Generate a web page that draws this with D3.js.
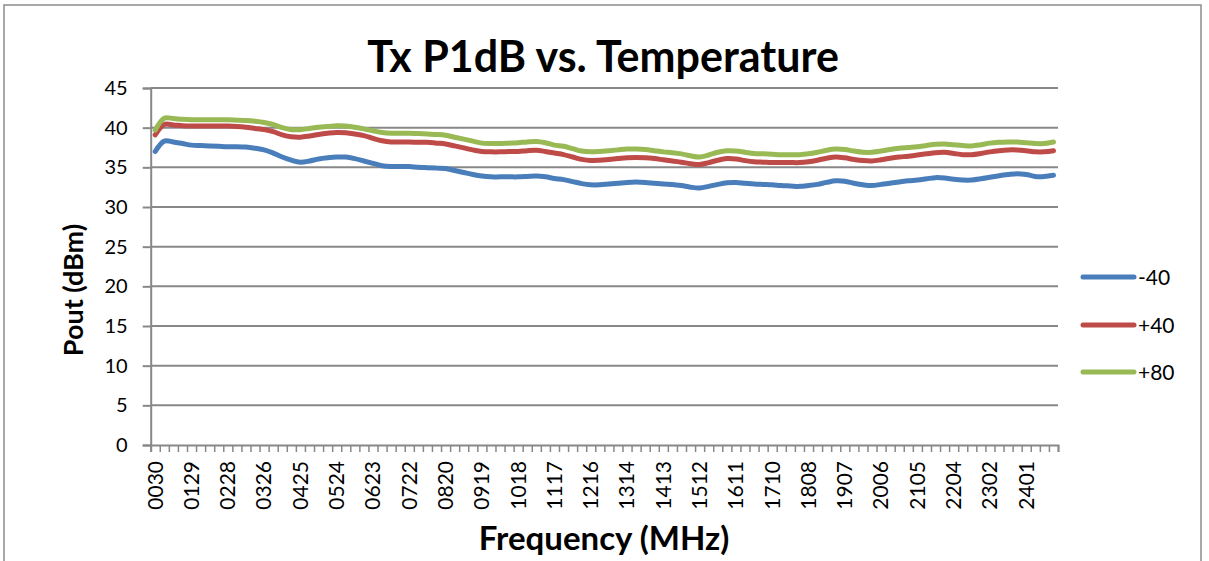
<!DOCTYPE html>
<html>
<head>
<meta charset="utf-8">
<script src="https://cdn.jsdelivr.net/npm/d3@7"></script>
<style>
  body { margin: 0; background: #fff; }
  svg text { font-family: Lato, "Open Sans", sans-serif; fill: #000; }
</style>
</head>
<body>
<div id="chart"></div>
<script>
// frequency labels (MHz), one per category
let freqLabels = [
  "0030","0055","0079","0104","0129","0154","0178","0203","0228","0252",
  "0277","0302","0326","0351","0376","0401","0425","0450","0475","0499",
  "0524","0549","0573","0598","0623","0648","0672","0697","0722","0746",
  "0771","0796","0820","0845","0870","0895","0919","0944","0969","0993",
  "1018","1043","1067","1092","1117","1142","1166","1191","1216","1240",
  "1265","1290","1314","1339","1364","1389","1413","1438","1463","1487",
  "1512","1537","1561","1586","1611","1636","1660","1685","1710","1734",
  "1759","1784","1808","1833","1858","1883","1907","1932","1957","1981",
  "2006","2031","2055","2080","2105","2130","2154","2179","2204","2228",
  "2253","2278","2302","2327","2352","2377","2401","2426","2451","2475"
];

// Pout at -40
let minus40 = [
  37.0,38.3,38.2,38.0,37.8,37.75,37.7,37.65,37.6,37.6,
  37.55,37.4,37.2,36.8,36.3,35.9,35.65,35.8,36.05,36.2,
  36.3,36.3,36.1,35.8,35.5,35.2,35.1,35.1,35.1,35.0,
  34.95,34.9,34.85,34.6,34.35,34.1,33.9,33.8,33.8,33.8,
  33.8,33.85,33.9,33.8,33.6,33.45,33.2,32.95,32.8,32.8,
  32.9,33.0,33.1,33.15,33.1,33.0,32.9,32.85,32.7,32.5,
  32.4,32.6,32.85,33.05,33.1,33.0,32.9,32.85,32.8,32.7,
  32.65,32.6,32.7,32.85,33.1,33.3,33.25,33.0,32.8,32.7,
  32.85,33.0,33.15,33.3,33.4,33.55,33.7,33.65,33.5,33.4,
  33.4,33.55,33.75,33.95,34.1,34.2,34.1,33.85,33.85,34.0
];

// Pout at +40
let plus40 = [
  39.1,40.4,40.35,40.25,40.2,40.2,40.2,40.2,40.2,40.15,
  40.05,39.9,39.75,39.5,39.1,38.85,38.8,38.95,39.15,39.3,
  39.4,39.35,39.2,39.0,38.65,38.35,38.2,38.2,38.2,38.15,
  38.15,38.05,37.95,37.7,37.45,37.2,37.0,36.95,36.95,37.0,
  37.0,37.1,37.15,37.0,36.8,36.6,36.3,36.0,35.85,35.9,
  36.0,36.1,36.2,36.25,36.2,36.1,35.95,35.8,35.65,35.45,
  35.35,35.6,35.9,36.1,36.05,35.85,35.7,35.65,35.6,35.6,
  35.6,35.6,35.7,35.9,36.15,36.3,36.2,36.0,35.85,35.8,
  35.95,36.15,36.3,36.4,36.55,36.7,36.85,36.9,36.75,36.6,
  36.6,36.75,36.95,37.1,37.2,37.2,37.1,36.95,36.95,37.1
];

// Pout at +80
let plus80 = [
  39.7,41.2,41.15,41.05,41.0,41.0,41.0,41.0,41.0,40.95,
  40.9,40.8,40.65,40.4,40.0,39.75,39.75,39.9,40.05,40.15,
  40.25,40.2,40.05,39.85,39.6,39.4,39.3,39.3,39.3,39.25,
  39.2,39.15,39.05,38.8,38.55,38.3,38.05,38.0,38.0,38.05,
  38.1,38.2,38.25,38.1,37.8,37.65,37.35,37.05,36.95,37.0,
  37.1,37.2,37.3,37.3,37.25,37.1,36.95,36.85,36.7,36.45,
  36.3,36.55,36.9,37.1,37.05,36.9,36.75,36.7,36.65,36.6,
  36.6,36.6,36.7,36.9,37.15,37.3,37.25,37.05,36.9,36.9,
  37.05,37.25,37.4,37.5,37.6,37.75,37.9,37.95,37.85,37.75,
  37.7,37.85,38.05,38.15,38.2,38.2,38.1,38.0,38.0,38.2
];

let seriesNames = ["-40", "+40", "+80"];
let seriesColors = ["#4a7ebb", "#be4b48", "#98b954"];
let yTicks = [0, 5, 10, 15, 20, 25, 30, 35, 40, 45];

let width = 1209;
let height = 561;
let gridColor = "#888888";

let svg = d3.select("#chart")
  .append("svg")
  .attr("width", width)
  .attr("height", height);

// chart frame
svg.append("rect")
  .attr("x", 4)
  .attr("y", 5)
  .attr("width", 1197)
  .attr("height", 600)
  .attr("fill", "#fff")
  .attr("stroke", "#8c8c8c")
  .attr("stroke-width", 1.5);

let plotLeft = 150.7;
let plotRight = 1058;
let plotTop = 88;
let plotBottom = 445;

let xScale = d3.scaleBand()
  .domain(d3.range(freqLabels.length))
  .range([plotLeft, plotRight])
  .padding(0);

// helper scale so ticks sit between categories
let xEdge = d3.scaleLinear()
  .domain([0, freqLabels.length])
  .range([plotLeft, plotRight]);

let yScale = d3.scaleLinear()
  .domain([0, 45])
  .range([plotBottom, plotTop]);

// horizontal gridlines + y axis
let yAxis = d3.axisLeft(yScale)
  .tickValues(yTicks)
  .tickSize(8)
  .tickPadding(6)
  .tickFormat(d3.format("d"));

let gy = svg.append("g")
  .attr("transform", `translate(${plotLeft},0)`)
  .call(yAxis);
gy.select(".domain").attr("stroke", gridColor).attr("stroke-width", 2);
gy.selectAll(".tick line").attr("stroke", gridColor).attr("stroke-width", 2);
gy.selectAll(".tick text")
  .attr("font-size", 20)
  .attr("dx", -9)
  .attr("font-family", "Lato, sans-serif");

svg.append("g")
  .selectAll("line")
  .data(yTicks.filter(d => d > 0))
  .join("line")
  .attr("x1", plotLeft)
  .attr("x2", plotRight)
  .attr("y1", d => yScale(d))
  .attr("y2", d => yScale(d))
  .attr("stroke", gridColor)
  .attr("stroke-width", 2);

// x axis: tick marks at category edges
let xTickAxis = d3.axisBottom(xEdge)
  .tickValues(d3.range(freqLabels.length + 1))
  .tickSize(7)
  .tickFormat("");
let gxTicks = svg.append("g")
  .attr("transform", `translate(0,${plotBottom})`)
  .call(xTickAxis);
gxTicks.select(".domain").attr("stroke", gridColor).attr("stroke-width", 2);
gxTicks.selectAll(".tick line").attr("stroke", gridColor).attr("stroke-width", 1.5);

// x axis labels, every 4th category
let xLabelAxis = d3.axisBottom(xScale)
  .tickValues(d3.range(0, freqLabels.length, 4))
  .tickSize(0)
  .tickFormat(i => freqLabels[i]);
let gxLabels = svg.append("g")
  .attr("transform", `translate(0,${plotBottom})`)
  .call(xLabelAxis);
gxLabels.select(".domain").remove();
gxLabels.selectAll(".tick text")
  .attr("font-size", 21)
  .attr("font-family", "Lato, sans-serif")
  .attr("text-anchor", "end")
  .attr("transform", "rotate(-90)")
  .attr("x", -16)
  .attr("y", 0)
  .attr("dy", "0.35em");

// lines
let line = d3.line()
  .x((d, i) => xScale(i) + xScale.bandwidth() / 2)
  .y(d => yScale(d))
  .curve(d3.curveCatmullRom.alpha(0.5));

let allSeries = [minus40, plus40, plus80];
svg.append("g")
  .selectAll("path")
  .data(allSeries)
  .join("path")
  .attr("d", d => line(d))
  .attr("fill", "none")
  .attr("stroke", (d, i) => seriesColors[i])
  .attr("stroke-width", 5)
  .attr("stroke-linejoin", "round")
  .attr("stroke-linecap", "round");

// title
svg.append("text")
  .attr("x", 603)
  .attr("y", 72)
  .attr("text-anchor", "middle")
  .attr("font-size", 43)
  .attr("font-weight", "bold")
  .text("Tx P1dB vs. Temperature");

// axis titles
svg.append("text")
  .attr("transform", "translate(83,290) rotate(-90)")
  .attr("text-anchor", "middle")
  .attr("font-size", 27)
  .attr("font-weight", "bold")
  .text("Pout (dBm)");

svg.append("text")
  .attr("x", 604)
  .attr("y", 550)
  .attr("text-anchor", "middle")
  .attr("font-size", 33)
  .attr("font-weight", "bold")
  .text("Frequency (MHz)");

// legend
let legendY = [277, 325, 372];
let legend = svg.append("g")
  .selectAll("g")
  .data(seriesNames)
  .join("g")
  .attr("transform", (d, i) => `translate(1083,${legendY[i]})`);
legend.append("line")
  .attr("x1", 0)
  .attr("x2", 51)
  .attr("stroke", (d, i) => seriesColors[i])
  .attr("stroke-width", 5)
  .attr("stroke-linecap", "round");
legend.append("text")
  .attr("x", 55)
  .attr("dy", "0.36em")
  .attr("font-size", 21)
  .text(d => d);
</script>
</body>
</html>
